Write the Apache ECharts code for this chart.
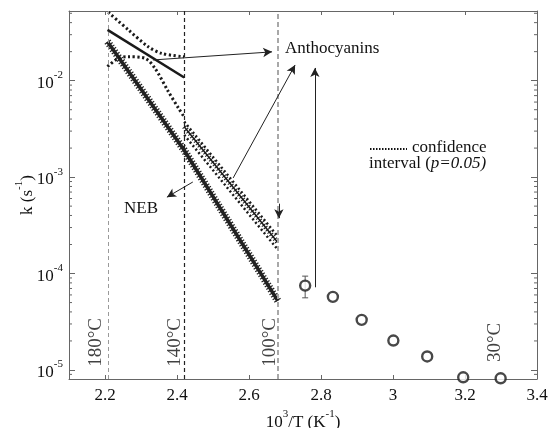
<!DOCTYPE html>
<html>
<head>
<meta charset="utf-8">
<script src="https://cdn.jsdelivr.net/npm/echarts@6/dist/echarts.min.js"></script>
<style>
html, body { margin: 0; padding: 0; background: #fff; }
#main { width: 549px; height: 428px; }
</style>
</head>
<body>
<div id="main"></div>
<script>
// NEB fit, 10^3/T against k
var nebX = [2.207, 2.42, 2.68]
var nebK = [0.0254, 0.0019, 5.2e-5]
// anthocyanins, 140-180 °C
var antHiX = [2.207, 2.42]
var antHiK = [0.0336, 0.0108]
var antHiUpX = [2.209, 2.265, 2.32, 2.357, 2.42]
var antHiUpK = [0.0513, 0.0336, 0.0225, 0.0192, 0.0177]
var antHiLoX = [2.207, 2.237, 2.265, 2.311, 2.339, 2.376, 2.404, 2.42]
var antHiLoK = [0.0140, 0.0171, 0.0177, 0.0171, 0.0134, 0.0077, 0.0052, 0.0042]
// anthocyanins, 100-140 °C
var antMidX = [2.42, 2.68]
var antMidK = [3.33e-3, 2.1e-4]
var antMidUpK = [3.76e-3, 2.42e-4]
var antMidLoK = [2.74e-3, 1.77e-4]
// measured points
var measX = [2.756, 2.833, 2.913, 3.001, 3.095, 3.195, 3.299]
var measK = [7.5e-5, 5.73e-5, 3.31e-5, 2.02e-5, 1.38e-5, 8.4e-6, 8.2e-6]
var errX = [2.756]
var errLo = [5.6e-5]
var errHi = [9.4e-5]
// temperatures
var tempLineX = [2.207, 2.42, 2.68]
var tempNames = ['180°C', '140°C', '100°C', '30°C']
var tempLabelX = [2.176, 2.394, 2.658, 3.283]
var tempLabelK = [1.93e-5, 1.93e-5, 1.93e-5, 1.93e-5]

var X_MIN = 2.1, X_MAX = 3.4
var K_MIN = 8.06e-6, K_MAX = 0.0528
var SERIF = 'Liberation Serif'

function zip (xs, ys) {
  return xs.map(function (x, i) { return [x, ys[i]] })
}

// minor log ticks 2..9 x 10^n inside the range
var minorK = []
for (var e = -6; e <= -1; e++) {
  for (var m = 2; m <= 9; m++) {
    var v = m * Math.pow(10, e)
    if (v > K_MIN && v < K_MAX) minorK.push(v)
  }
}

var chart = echarts.init(document.getElementById('main'))

var supRich = {
  b: { fontFamily: SERIF, fontSize: 17, color: '#111', verticalAlign: 'bottom', lineHeight: 22 },
  s: { fontFamily: SERIF, fontSize: 11, color: '#111', verticalAlign: 'top', lineHeight: 22 }
}

var axisLineStyle = { color: '#666', width: 1 }

function arrow (x1, y1, x2, y2) {
  return [{ coord: [x1, y1] }, { coord: [x2, y2] }]
}

var option = {
  animation: false,
  backgroundColor: '#fff',
  grid: { left: 69, right: 12, top: 11, bottom: 49, outerBoundsMode: 'none' },
  xAxis: [
    {
      type: 'value', min: X_MIN, max: X_MAX, splitNumber: 7,
      axisLine: { onZero: false, lineStyle: axisLineStyle },
      axisTick: { inside: true, length: 4, lineStyle: axisLineStyle },
      splitLine: { show: false },
      axisLabel: { showMinLabel: false, fontFamily: SERIF, fontSize: 17, color: '#111', margin: 8 },
      name: '{b|10}{s|3}{b|/T (K}{s|-1}{b|)}',
      nameLocation: 'middle', nameGap: 30, nameMoveOverlap: false,
      nameTextStyle: { rich: supRich }
    },
    {
      type: 'value', min: X_MIN, max: X_MAX, splitNumber: 7, position: 'top',
      axisLine: { onZero: false, lineStyle: axisLineStyle },
      axisTick: { inside: true, length: 4, lineStyle: axisLineStyle },
      splitLine: { show: false },
      axisLabel: { show: false }
    }
  ],
  yAxis: [
    {
      type: 'log', logBase: 10, min: K_MIN, max: K_MAX,
      axisLine: { onZero: false, lineStyle: axisLineStyle },
      axisTick: { inside: true, length: 6, lineStyle: axisLineStyle },
      splitLine: { show: false },
      axisLabel: {
        showMinLabel: false, showMaxLabel: false, margin: 6,
        formatter: function (v) {
          return '{b|10}{s|' + Math.round(Math.log10(v)) + '}'
        },
        rich: supRich
      },
      name: '{b|k (s}{s|-1}{b|)}',
      nameLocation: 'middle', nameGap: 33, nameRotate: 90, nameMoveOverlap: false,
      nameTextStyle: { rich: supRich }
    },
    {
      type: 'log', logBase: 10, min: K_MIN, max: K_MAX, position: 'right',
      axisLine: { onZero: false, lineStyle: axisLineStyle },
      axisTick: { inside: true, length: 6, lineStyle: axisLineStyle },
      splitLine: { show: false },
      axisLabel: { show: false }
    }
  ],
  series: [
    // minor ticks on both sides
    {
      type: 'custom',
      silent: true,
      data: minorK.map(function (v) { return [2.5, v] }),
      renderItem: function (params, api) {
        var cs = params.coordSys
        var y = api.coord([2.5, api.value(1)])[1]
        var st = { stroke: '#666', lineWidth: 1 }
        return {
          type: 'group',
          children: [
            { type: 'line', shape: { x1: cs.x, y1: y, x2: cs.x + 3, y2: y }, style: st },
            { type: 'line', shape: { x1: cs.x + cs.width - 3, y1: y, x2: cs.x + cs.width, y2: y }, style: st }
          ]
        }
      }
    },
    // temperature guide lines
    {
      type: 'line',
      data: [],
      markLine: {
        silent: true,
        symbol: ['none', 'none'],
        label: { show: false },
        data: [
          { xAxis: tempLineX[0], lineStyle: { color: '#9a9a9a', type: [4, 3], width: 1 } },
          { xAxis: tempLineX[1], lineStyle: { color: '#222', type: [4, 3], width: 1.2 } },
          { xAxis: tempLineX[2], lineStyle: { color: '#a8a8a8', type: [5, 3], width: 2 } }
        ]
      }
    },
    // NEB
    {
      type: 'line', data: zip(nebX, nebK), symbol: 'none',
      lineStyle: { color: '#222', width: 3.5 }, z: 3
    },
    {
      type: 'line', data: zip(nebX, nebK), symbol: 'none',
      lineStyle: { color: '#222', width: 7.5, type: [1.2, 1.8] }, z: 3
    },
    // anthocyanins high T
    {
      type: 'line', data: zip(antHiX, antHiK), symbol: 'none',
      lineStyle: { color: '#1a1a1a', width: 2.5 }
    },
    {
      type: 'line', data: zip(antHiUpX, antHiUpK), symbol: 'none', smooth: 0.3,
      lineStyle: { color: '#1a1a1a', width: 3, type: [2.2, 2.5] }
    },
    {
      type: 'line', data: zip(antHiLoX, antHiLoK), symbol: 'none', smooth: 0.3,
      lineStyle: { color: '#1a1a1a', width: 3, type: [2.2, 2.5] }
    },
    // anthocyanins 100-140
    {
      type: 'line', data: zip(antMidX, antMidK), symbol: 'none',
      lineStyle: { color: '#1a1a1a', width: 1.5 }
    },
    {
      type: 'line', data: zip(antMidX, antMidK), symbol: 'none',
      lineStyle: { color: '#1a1a1a', width: 5, type: [1, 2] }
    },
    {
      type: 'line', data: zip(antMidX, antMidUpK), symbol: 'none',
      lineStyle: { color: '#1a1a1a', width: 2.5, type: [2, 2.5] }
    },
    {
      type: 'line', data: zip(antMidX, antMidLoK), symbol: 'none',
      lineStyle: { color: '#1a1a1a', width: 2.5, type: [2, 2.5] }
    },
    // error bar
    {
      type: 'custom',
      data: errX.map(function (x, i) { return [x, errLo[i], errHi[i]] }),
      renderItem: function (params, api) {
        var lo = api.coord([api.value(0), api.value(1)])
        var hi = api.coord([api.value(0), api.value(2)])
        var st = { stroke: '#555', lineWidth: 1 }
        return {
          type: 'group',
          children: [
            { type: 'line', shape: { x1: lo[0], y1: lo[1], x2: hi[0], y2: hi[1] }, style: st },
            { type: 'line', shape: { x1: lo[0] - 3, y1: lo[1], x2: lo[0] + 3, y2: lo[1] }, style: st },
            { type: 'line', shape: { x1: hi[0] - 3, y1: hi[1], x2: hi[0] + 3, y2: hi[1] }, style: st }
          ]
        }
      },
      z: 4
    },
    // measured points
    {
      type: 'scatter', data: zip(measX, measK), symbol: 'circle', symbolSize: 10,
      itemStyle: { color: '#fff', borderColor: '#1a1a1a', borderWidth: 2.4 },
      z: 5
    },
    // temperature labels
    {
      type: 'scatter',
      data: tempNames.map(function (n, i) { return { name: n, value: [tempLabelX[i], tempLabelK[i]] } }),
      symbolSize: 0,
      silent: true,
      label: {
        show: true, position: 'inside', rotate: 90,
        formatter: '{b}', fontFamily: SERIF, fontSize: 19, color: '#111'
      }
    },
    // annotation arrows
    {
      type: 'line',
      data: [],
      markLine: {
        silent: true,
        symbol: ['none', 'arrow'],
        symbolSize: [7, 9],
        label: { show: false },
        lineStyle: { color: '#222', width: 1, type: 'solid' },
        data: [
          arrow(2.333, 0.0164, 2.664, 0.0199),
          arrow(2.556, 9.8e-4, 2.728, 0.01455),
          arrow(2.783, 7.2e-5, 2.783, 0.01355),
          arrow(2.683, 5.3e-4, 2.683, 3.75e-4),
          arrow(2.444, 8.9e-4, 2.372, 6.2e-4)
        ]
      }
    }
  ],
  graphic: [
    { type: 'text', left: 285, top: 40, style: { text: 'Anthocyanins', font: '17px "Liberation Serif"', fill: '#111' } },
    { type: 'text', left: 124, top: 200, style: { text: 'NEB', font: '17px "Liberation Serif"', fill: '#111' } },
    { type: 'line', shape: { x1: 370, y1: 149, x2: 407, y2: 149 }, style: { stroke: '#111', lineWidth: 2, lineDash: [1.5, 1.5] } },
    { type: 'text', left: 412, top: 139, style: { text: 'confidence', font: '17px "Liberation Serif"', fill: '#111' } },
    {
      type: 'text', left: 369, top: 155,
      style: {
        text: '{n|interval (}{i|p=0.05)}',
        rich: {
          n: { fontFamily: SERIF, fontSize: 17, fill: '#111' },
          i: { fontFamily: SERIF, fontSize: 17, fontStyle: 'italic', fill: '#111' }
        }
      }
    }
  ]
}

chart.setOption(option)
</script>
</body>
</html>
